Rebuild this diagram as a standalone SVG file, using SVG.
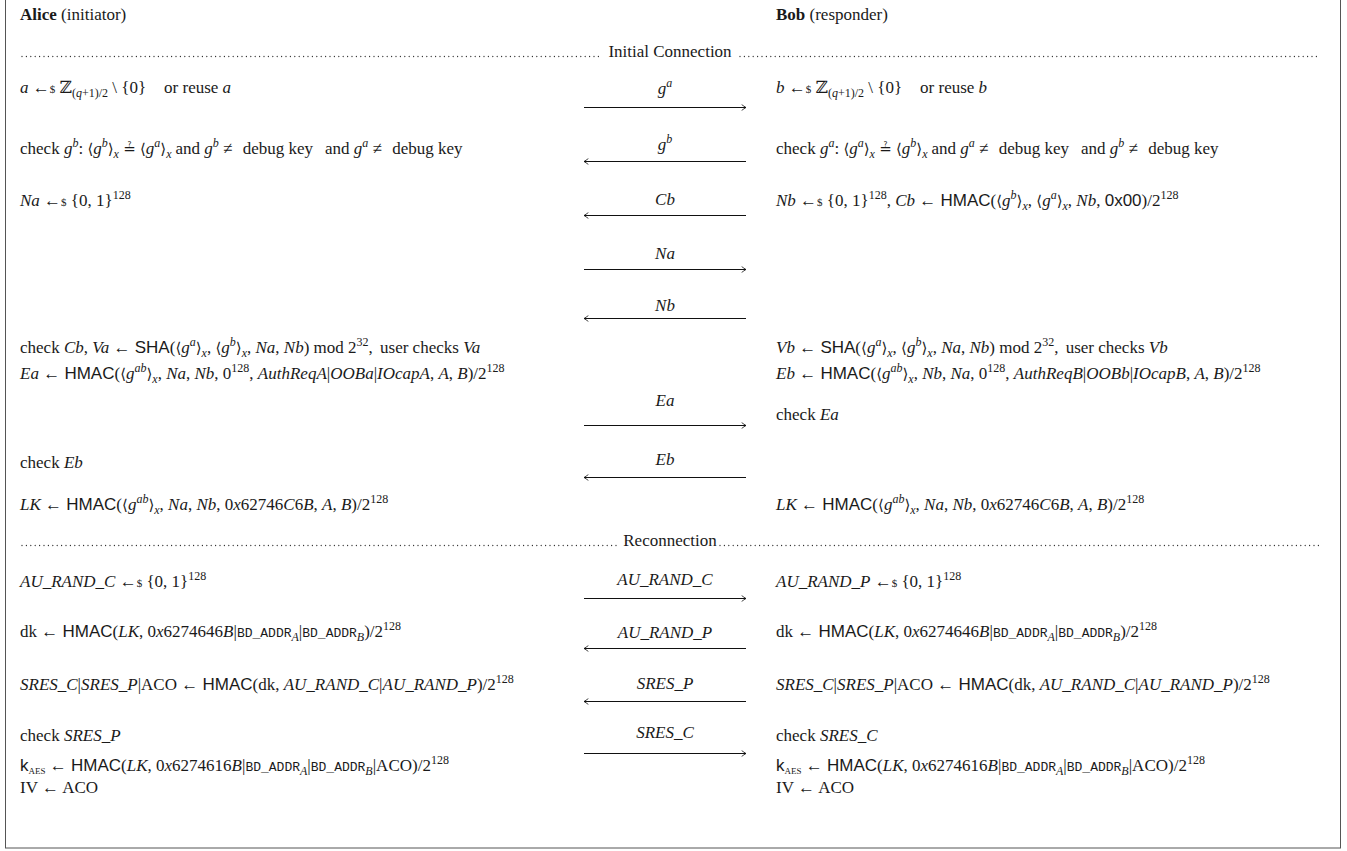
<svg xmlns="http://www.w3.org/2000/svg" width="1347" height="851" viewBox="0 0 1347 851">
  <style>
    text { font-family: "Liberation Serif", "DejaVu Serif", serif; font-size: 17px; fill: #1a1a1a; }
    .i { font-style: italic; }
    .b { font-weight: bold; }
    .sf { font-family: "Liberation Sans", "DejaVu Sans", sans-serif; }
    .tt { font-family: "Liberation Mono", "DejaVu Sans Mono", monospace; font-size: 13px; }
    .sup { font-size: 12px; baseline-shift: 7px; }
    .sub { font-size: 12px; baseline-shift: -4px; }
    .subs { font-size: 9px; baseline-shift: -3px; }
    .sm { font-size: 11px; }
    .op { font-family: "DejaVu Sans", sans-serif; font-size: 15px; }
    .ang { font-family: "DejaVu Sans", sans-serif; font-size: 15px; }
    .lbl { text-anchor: middle; }
    .dots { stroke: #333; stroke-width: 1.3; stroke-dasharray: 0 4.4; stroke-linecap: round; fill: none; }
    .msg { stroke: #111; stroke-width: 1; fill: none; }
    .frame { fill: #fff; stroke: #555; stroke-width: 1; }
  </style>
  <defs>
    <marker id="tip" viewBox="0 0 8 8" refX="7" refY="4" markerWidth="8" markerHeight="8" markerUnits="userSpaceOnUse" orient="auto">
      <path d="M3,1 Q5,3.6 7,4 Q5,4.4 3,7" fill="none" stroke="#111" stroke-width="1"/>
    </marker>
  </defs>

  <rect class="frame" x="5.5" y="-1" width="1335" height="849"/>

  <!-- party headers -->
  <g id="alice-header">
    <text x="20" y="20"><tspan class="b">Alice</tspan> (initiator)</text>
  </g>
  <g id="bob-header">
    <text x="776" y="20"><tspan class="b">Bob</tspan> (responder)</text>
  </g>

  <!-- phase separators -->
  <g id="phase-initial">
    <line class="dots" x1="22" y1="56.5" x2="600" y2="56.5"/>
    <text x="670" y="57" class="lbl">Initial Connection</text>
    <line class="dots" x1="740" y1="56.5" x2="1320" y2="56.5"/>
  </g>
  <g id="phase-reconnect">
    <line class="dots" x1="22" y1="545.5" x2="620" y2="545.5"/>
    <text x="670" y="546" class="lbl">Reconnection</text>
    <line class="dots" x1="720" y1="545.5" x2="1320" y2="545.5"/>
  </g>

  <!-- Alice steps -->
  <g id="alice-keygen">
    <text x="20" y="93"><tspan class="i">a</tspan> ←<tspan class="sm">$</tspan> ℤ<tspan class="sub">(<tspan class="i">q</tspan>+1)/2</tspan> \ {0}<tspan dx="18">or reuse </tspan><tspan class="i">a</tspan></text>
  </g>
  <g id="alice-check-gb">
    <text x="20" y="154">check <tspan class="i">g</tspan><tspan class="sup i">b</tspan>: <tspan class="ang">⟨</tspan><tspan class="i">g</tspan><tspan class="sup i">b</tspan><tspan class="ang">⟩</tspan><tspan class="sub i">x</tspan> <tspan class="op">≟</tspan> <tspan class="ang">⟨</tspan><tspan class="i">g</tspan><tspan class="sup i">a</tspan><tspan class="ang">⟩</tspan><tspan class="sub i">x</tspan><tspan dx="4">and </tspan><tspan class="i">g</tspan><tspan class="sup i">b</tspan> ≠ <tspan dx="6">debug key</tspan><tspan dx="12">and </tspan><tspan class="i">g</tspan><tspan class="sup i">a</tspan> ≠ <tspan dx="6">debug key</tspan></text>
  </g>
  <g id="alice-nonce">
    <text x="20" y="206"><tspan class="i">Na</tspan> ←<tspan class="sm">$</tspan> {0, 1}<tspan class="sup">128</tspan></text>
  </g>
  <g id="alice-confirm">
    <text x="20" y="353">check <tspan class="i">Cb</tspan>, <tspan class="i">Va</tspan> ← <tspan class="sf">SHA</tspan>(<tspan class="ang">⟨</tspan><tspan class="i">g</tspan><tspan class="sup i">a</tspan><tspan class="ang">⟩</tspan><tspan class="sub i">x</tspan>, <tspan class="ang">⟨</tspan><tspan class="i">g</tspan><tspan class="sup i">b</tspan><tspan class="ang">⟩</tspan><tspan class="sub i">x</tspan>, <tspan class="i">Na</tspan>, <tspan class="i">Nb</tspan>) mod 2<tspan class="sup">32</tspan>, <tspan dx="3">user checks </tspan><tspan class="i">Va</tspan></text>
    <text x="20" y="379"><tspan class="i">Ea</tspan> ← <tspan class="sf">HMAC</tspan>(<tspan class="ang">⟨</tspan><tspan class="i">g</tspan><tspan class="sup i">ab</tspan><tspan class="ang">⟩</tspan><tspan class="sub i">x</tspan>, <tspan class="i">Na</tspan>, <tspan class="i">Nb</tspan>, 0<tspan class="sup">128</tspan>, <tspan class="i">AuthReqA</tspan>|<tspan class="i">OOBa</tspan>|<tspan class="i">IOcapA</tspan>, <tspan class="i">A</tspan>, <tspan class="i">B</tspan>)/2<tspan class="sup">128</tspan></text>
  </g>
  <g id="alice-check-eb">
    <text x="20" y="468">check <tspan class="i">Eb</tspan></text>
  </g>
  <g id="alice-link-key">
    <text x="20" y="510"><tspan class="i">LK</tspan> ← <tspan class="sf">HMAC</tspan>(<tspan class="ang">⟨</tspan><tspan class="i">g</tspan><tspan class="sup i">ab</tspan><tspan class="ang">⟩</tspan><tspan class="sub i">x</tspan>, <tspan class="i">Na</tspan>, <tspan class="i">Nb</tspan>, 0<tspan class="i">x</tspan>62746<tspan class="i">C</tspan>6<tspan class="i">B</tspan>, <tspan class="i">A</tspan>, <tspan class="i">B</tspan>)/2<tspan class="sup">128</tspan></text>
  </g>
  <g id="alice-rand">
    <text x="20" y="587"><tspan class="i">AU_RAND_C</tspan> ←<tspan class="sm">$</tspan> {0, 1}<tspan class="sup">128</tspan></text>
  </g>
  <g id="alice-dk">
    <text x="20" y="637">dk ← <tspan class="sf">HMAC</tspan>(<tspan class="i">LK</tspan>, 0<tspan class="i">x</tspan>6274646<tspan class="i">B</tspan>|<tspan class="tt">BD_ADDR</tspan><tspan class="sub i">A</tspan>|<tspan class="tt">BD_ADDR</tspan><tspan class="sub i">B</tspan>)/2<tspan class="sup">128</tspan></text>
  </g>
  <g id="alice-sres">
    <text x="20" y="690"><tspan class="i">SRES_C</tspan>|<tspan class="i">SRES_P</tspan>|ACO ← <tspan class="sf">HMAC</tspan>(dk, <tspan class="i">AU_RAND_C</tspan>|<tspan class="i">AU_RAND_P</tspan>)/2<tspan class="sup">128</tspan></text>
  </g>
  <g id="alice-check-sres">
    <text x="20" y="741">check <tspan class="i">SRES_P</tspan></text>
  </g>
  <g id="alice-session-key">
    <text x="20" y="771"><tspan class="sf">k</tspan><tspan class="subs">AES</tspan> ← <tspan class="sf">HMAC</tspan>(<tspan class="i">LK</tspan>, 0<tspan class="i">x</tspan>6274616<tspan class="i">B</tspan>|<tspan class="tt">BD_ADDR</tspan><tspan class="sub i">A</tspan>|<tspan class="tt">BD_ADDR</tspan><tspan class="sub i">B</tspan>|ACO)/2<tspan class="sup">128</tspan></text>
    <text x="20" y="793">IV ← ACO</text>
  </g>

  <!-- Bob steps -->
  <g id="bob-keygen">
    <text x="776" y="93"><tspan class="i">b</tspan> ←<tspan class="sm">$</tspan> ℤ<tspan class="sub">(<tspan class="i">q</tspan>+1)/2</tspan> \ {0}<tspan dx="18">or reuse </tspan><tspan class="i">b</tspan></text>
  </g>
  <g id="bob-check-ga">
    <text x="776" y="154">check <tspan class="i">g</tspan><tspan class="sup i">a</tspan>: <tspan class="ang">⟨</tspan><tspan class="i">g</tspan><tspan class="sup i">a</tspan><tspan class="ang">⟩</tspan><tspan class="sub i">x</tspan> <tspan class="op">≟</tspan> <tspan class="ang">⟨</tspan><tspan class="i">g</tspan><tspan class="sup i">b</tspan><tspan class="ang">⟩</tspan><tspan class="sub i">x</tspan><tspan dx="4">and </tspan><tspan class="i">g</tspan><tspan class="sup i">a</tspan> ≠ <tspan dx="6">debug key</tspan><tspan dx="12">and </tspan><tspan class="i">g</tspan><tspan class="sup i">b</tspan> ≠ <tspan dx="6">debug key</tspan></text>
  </g>
  <g id="bob-commit">
    <text x="776" y="206"><tspan class="i">Nb</tspan> ←<tspan class="sm">$</tspan> {0, 1}<tspan class="sup">128</tspan>, <tspan class="i">Cb</tspan> ← <tspan class="sf">HMAC</tspan>(<tspan class="ang">⟨</tspan><tspan class="i">g</tspan><tspan class="sup i">b</tspan><tspan class="ang">⟩</tspan><tspan class="sub i">x</tspan>, <tspan class="ang">⟨</tspan><tspan class="i">g</tspan><tspan class="sup i">a</tspan><tspan class="ang">⟩</tspan><tspan class="sub i">x</tspan>, <tspan class="i">Nb</tspan>, <tspan class="sf">0x00</tspan>)/2<tspan class="sup">128</tspan></text>
  </g>
  <g id="bob-confirm">
    <text x="776" y="353"><tspan class="i">Vb</tspan> ← <tspan class="sf">SHA</tspan>(<tspan class="ang">⟨</tspan><tspan class="i">g</tspan><tspan class="sup i">a</tspan><tspan class="ang">⟩</tspan><tspan class="sub i">x</tspan>, <tspan class="ang">⟨</tspan><tspan class="i">g</tspan><tspan class="sup i">b</tspan><tspan class="ang">⟩</tspan><tspan class="sub i">x</tspan>, <tspan class="i">Na</tspan>, <tspan class="i">Nb</tspan>) mod 2<tspan class="sup">32</tspan>, <tspan dx="3">user checks </tspan><tspan class="i">Vb</tspan></text>
    <text x="776" y="379"><tspan class="i">Eb</tspan> ← <tspan class="sf">HMAC</tspan>(<tspan class="ang">⟨</tspan><tspan class="i">g</tspan><tspan class="sup i">ab</tspan><tspan class="ang">⟩</tspan><tspan class="sub i">x</tspan>, <tspan class="i">Nb</tspan>, <tspan class="i">Na</tspan>, 0<tspan class="sup">128</tspan>, <tspan class="i">AuthReqB</tspan>|<tspan class="i">OOBb</tspan>|<tspan class="i">IOcapB</tspan>, <tspan class="i">A</tspan>, <tspan class="i">B</tspan>)/2<tspan class="sup">128</tspan></text>
  </g>
  <g id="bob-check-ea">
    <text x="776" y="420">check <tspan class="i">Ea</tspan></text>
  </g>
  <g id="bob-link-key">
    <text x="776" y="510"><tspan class="i">LK</tspan> ← <tspan class="sf">HMAC</tspan>(<tspan class="ang">⟨</tspan><tspan class="i">g</tspan><tspan class="sup i">ab</tspan><tspan class="ang">⟩</tspan><tspan class="sub i">x</tspan>, <tspan class="i">Na</tspan>, <tspan class="i">Nb</tspan>, 0<tspan class="i">x</tspan>62746<tspan class="i">C</tspan>6<tspan class="i">B</tspan>, <tspan class="i">A</tspan>, <tspan class="i">B</tspan>)/2<tspan class="sup">128</tspan></text>
  </g>
  <g id="bob-rand">
    <text x="776" y="587"><tspan class="i">AU_RAND_P</tspan> ←<tspan class="sm">$</tspan> {0, 1}<tspan class="sup">128</tspan></text>
  </g>
  <g id="bob-dk">
    <text x="776" y="637">dk ← <tspan class="sf">HMAC</tspan>(<tspan class="i">LK</tspan>, 0<tspan class="i">x</tspan>6274646<tspan class="i">B</tspan>|<tspan class="tt">BD_ADDR</tspan><tspan class="sub i">A</tspan>|<tspan class="tt">BD_ADDR</tspan><tspan class="sub i">B</tspan>)/2<tspan class="sup">128</tspan></text>
  </g>
  <g id="bob-sres">
    <text x="776" y="690"><tspan class="i">SRES_C</tspan>|<tspan class="i">SRES_P</tspan>|ACO ← <tspan class="sf">HMAC</tspan>(dk, <tspan class="i">AU_RAND_C</tspan>|<tspan class="i">AU_RAND_P</tspan>)/2<tspan class="sup">128</tspan></text>
  </g>
  <g id="bob-check-sres">
    <text x="776" y="741">check <tspan class="i">SRES_C</tspan></text>
  </g>
  <g id="bob-session-key">
    <text x="776" y="771"><tspan class="sf">k</tspan><tspan class="subs">AES</tspan> ← <tspan class="sf">HMAC</tspan>(<tspan class="i">LK</tspan>, 0<tspan class="i">x</tspan>6274616<tspan class="i">B</tspan>|<tspan class="tt">BD_ADDR</tspan><tspan class="sub i">A</tspan>|<tspan class="tt">BD_ADDR</tspan><tspan class="sub i">B</tspan>|ACO)/2<tspan class="sup">128</tspan></text>
    <text x="776" y="793">IV ← ACO</text>
  </g>

  <!-- messages exchanged between the parties -->
  <g id="messages">
    <line class="msg" x1="584" y1="107.5" x2="746" y2="107.5" marker-end="url(#tip)"/>
    <text class="lbl" x="665" y="94"><tspan class="i">g</tspan><tspan class="sup i">a</tspan></text>

    <line class="msg" x1="746" y1="161.5" x2="584" y2="161.5" marker-end="url(#tip)"/>
    <text class="lbl" x="665" y="150"><tspan class="i">g</tspan><tspan class="sup i">b</tspan></text>

    <line class="msg" x1="746" y1="215.5" x2="584" y2="215.5" marker-end="url(#tip)"/>
    <text class="lbl i" x="665" y="205">Cb</text>

    <line class="msg" x1="584" y1="269.5" x2="746" y2="269.5" marker-end="url(#tip)"/>
    <text class="lbl i" x="665" y="259">Na</text>

    <line class="msg" x1="746" y1="318.5" x2="584" y2="318.5" marker-end="url(#tip)"/>
    <text class="lbl i" x="665" y="311">Nb</text>

    <line class="msg" x1="584" y1="425.5" x2="746" y2="425.5" marker-end="url(#tip)"/>
    <text class="lbl i" x="665" y="406">Ea</text>

    <line class="msg" x1="746" y1="477.5" x2="584" y2="477.5" marker-end="url(#tip)"/>
    <text class="lbl i" x="665" y="465">Eb</text>

    <line class="msg" x1="584" y1="598.5" x2="746" y2="598.5" marker-end="url(#tip)"/>
    <text class="lbl i" x="665" y="585">AU_RAND_C</text>

    <line class="msg" x1="746" y1="648.5" x2="584" y2="648.5" marker-end="url(#tip)"/>
    <text class="lbl i" x="665" y="638">AU_RAND_P</text>

    <line class="msg" x1="746" y1="701.5" x2="584" y2="701.5" marker-end="url(#tip)"/>
    <text class="lbl i" x="665" y="689">SRES_P</text>

    <line class="msg" x1="584" y1="753.5" x2="746" y2="753.5" marker-end="url(#tip)"/>
    <text class="lbl i" x="665" y="738">SRES_C</text>
  </g>
</svg>
